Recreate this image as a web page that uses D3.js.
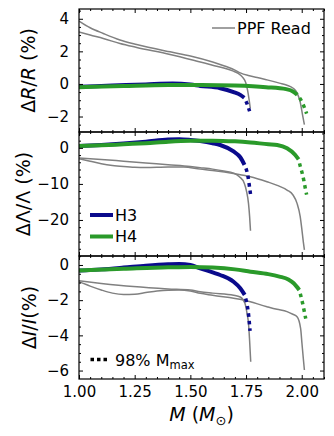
<!DOCTYPE html>
<html><head><meta charset="utf-8">
<script src="https://cdn.jsdelivr.net/npm/d3@7"></script>
<style>
html,body{margin:0;padding:0;background:#fff;}
svg{display:block;font-family:"DejaVu Sans",sans-serif;}
</style></head>
<body>
<svg id="c" width="334" height="436"></svg>
<script>
// ---------- data: [mass (M_sun), percent] ----------
const xTicks = [1.00, 1.25, 1.50, 1.75, 2.00];

// Panel 1: ΔR/R (%)
const rTicks = [-2, 0, 2, 4];
const r_H3 = [[1.0,-0.17],[1.15,-0.1],[1.3,-0.03],[1.42,0.02],[1.5,-0.04],[1.544,-0.12],[1.634,-0.26],[1.694,-0.5],[1.724,-0.67],[1.742,-0.85]];
const r_H3_dot = [[1.742,-0.85],[1.754,-1.2],[1.766,-1.68]];
const r_H4 = [[1.0,-0.2],[1.2,-0.13],[1.4,-0.07],[1.55,-0.06],[1.7,-0.1],[1.84,-0.2],[1.93,-0.32],[1.965,-0.5],[1.98,-0.67]];
const r_H4_dot = [[1.98,-0.67],[1.995,-0.95],[2.01,-1.38],[2.022,-1.82]];
const r_PPF_H3 = [[1.0,3.19],[1.05,3.0],[1.109,2.79],[1.184,2.48],[1.259,2.24],[1.409,1.81],[1.535,1.38],[1.6,1.15],[1.65,0.98],[1.69,0.8],[1.715,0.65],[1.735,0.4],[1.748,0.1],[1.757,-0.4],[1.763,-0.9],[1.769,-1.5]];
const r_PPF_H4 = [[1.0,3.86],[1.05,3.45],[1.109,3.1],[1.184,2.7],[1.259,2.42],[1.409,1.97],[1.5,1.72],[1.6,1.35],[1.65,1.12],[1.7,0.85],[1.724,0.68],[1.76,0.52],[1.8,0.4],[1.844,0.25],[1.9,0.05],[1.934,-0.08],[1.96,-0.25],[1.979,-0.55],[1.993,-1.1],[2.003,-1.85],[2.012,-2.5]];

// Panel 2: ΔΛ/Λ (%)
const lTicks = [-20, -10, 0];
const l_H3 = [[1.0,0.5],[1.1,0.8],[1.2,1.2],[1.3,1.7],[1.4,2.3],[1.45,2.4],[1.5,2.2],[1.544,1.9],[1.6,1.3],[1.634,0.8],[1.694,-1.0],[1.724,-2.6],[1.743,-4.7]];
const l_H3_dot = [[1.743,-4.7],[1.754,-6.6],[1.76,-8.4],[1.765,-10.6],[1.77,-12.8]];
const l_H4 = [[1.0,0.5],[1.1,0.7],[1.2,1.0],[1.3,1.3],[1.4,1.7],[1.5,1.95],[1.6,2.0],[1.7,1.8],[1.77,1.5],[1.85,1.0],[1.89,0.8],[1.934,-0.1],[1.97,-1.9],[1.986,-3.2]];
const l_H4_dot = [[1.986,-3.2],[1.993,-5.0],[2.002,-7.0],[2.01,-9.2],[2.016,-11.2],[2.022,-13.0]];
const l_PPF_H3 = [[1.0,-2.8],[1.1,-3.2],[1.2,-3.7],[1.3,-4.2],[1.4,-4.7],[1.5,-5.2],[1.544,-5.5],[1.6,-5.9],[1.65,-6.4],[1.694,-7.0],[1.72,-8.0],[1.742,-9.8],[1.752,-12],[1.761,-15.4],[1.766,-19],[1.77,-23]];
const l_PPF_H4 = [[1.0,-3.0],[1.05,-3.7],[1.1,-4.4],[1.15,-4.9],[1.2,-5.2],[1.25,-5.4],[1.3,-5.45],[1.4,-5.3],[1.47,-5.3],[1.544,-5.9],[1.6,-6.3],[1.7,-7.2],[1.769,-8.0],[1.844,-9.4],[1.89,-10.4],[1.934,-11.7],[1.96,-13],[1.979,-15.4],[1.993,-19],[2.001,-22.8],[2.007,-26],[2.012,-28.3]];

// Panel 3: ΔI/I (%)
const iTicks = [-6, -4, -2, 0];
const i_H3 = [[1.0,-0.32],[1.1,-0.25],[1.2,-0.15],[1.3,-0.04],[1.4,0.04],[1.45,0.06],[1.5,0.0],[1.544,-0.19],[1.6,-0.42],[1.634,-0.57],[1.694,-0.95],[1.724,-1.32],[1.744,-1.7]];
const i_H3_dot = [[1.744,-1.7],[1.752,-2.1],[1.758,-2.5],[1.762,-2.9],[1.765,-3.3],[1.768,-3.75]];
const i_H4 = [[1.0,-0.32],[1.2,-0.22],[1.4,-0.13],[1.5,-0.12],[1.6,-0.15],[1.7,-0.25],[1.77,-0.38],[1.85,-0.52],[1.9,-0.66],[1.94,-0.82],[1.964,-1.04],[1.989,-1.42]];
const i_H4_dot = [[1.989,-1.42],[1.996,-1.76],[2.004,-2.18],[2.011,-2.61],[2.018,-3.05]];
const i_PPF_H3 = [[1.0,-0.9],[1.1,-1.05],[1.244,-1.23],[1.4,-1.36],[1.5,-1.42],[1.544,-1.52],[1.6,-1.6],[1.694,-1.72],[1.724,-1.82],[1.745,-2.18],[1.755,-2.8],[1.761,-3.31],[1.766,-4.3],[1.771,-5.5]];
const i_PPF_H4 = [[1.0,-0.95],[1.05,-1.2],[1.1,-1.42],[1.15,-1.6],[1.2,-1.68],[1.25,-1.66],[1.3,-1.57],[1.35,-1.48],[1.4,-1.43],[1.45,-1.42],[1.5,-1.48],[1.544,-1.61],[1.6,-1.72],[1.739,-1.99],[1.844,-2.37],[1.889,-2.52],[1.934,-2.65],[1.96,-2.8],[1.979,-2.94],[1.995,-3.6],[2.001,-4.45],[2.007,-5.3],[2.012,-5.97]];

// ---------- layout ----------
const L = 79, R = 324;
const BLUE = "#0a0a8c", GREEN = "#2a9a2a", GREY = "#808080";
const svg = d3.select("#c");
const x = d3.scaleLinear().domain([1.0, 2.1]).range([L, R]);
const xMinor = d3.range(1.0, 2.1001, 0.05);

const panels = [
  {top: 9, bot: 132, dom: [-2.95, 4.6], ticks: rTicks, minorStep: 0.5,
   series: [r_PPF_H3, r_PPF_H4], h3: r_H3, h3d: r_H3_dot, h4: r_H4, h4d: r_H4_dot,
   label: "R", labelX: 28},
  {top: 132, bot: 256, dom: [-30, 4.4], ticks: lTicks, minorStep: 2,
   series: [l_PPF_H3, l_PPF_H4], h3: l_H3, h3d: l_H3_dot, h4: l_H4, h4d: l_H4_dot,
   label: "L", labelX: 23},
  {top: 256, bot: 379, dom: [-6.48, 0.51], ticks: iTicks, minorStep: 0.5,
   series: [i_PPF_H3, i_PPF_H4], h3: i_H3, h3d: i_H3_dot, h4: i_H4, h4d: i_H4_dot,
   label: "I", labelX: 29}
];

panels.forEach((p, k) => {
  const y = d3.scaleLinear().domain(p.dom).range([p.bot, p.top]);
  const g = svg.append("g");
  const cid = "clip" + k;
  svg.append("clipPath").attr("id", cid).append("rect")
    .attr("x", L).attr("y", p.top).attr("width", R - L).attr("height", p.bot - p.top);
  const line = d3.line().x(d => x(d[0])).y(d => y(d[1])).curve(d3.curveMonotoneX);
  const plot = g.append("g").attr("clip-path", `url(#${cid})`);
  p.series.forEach(s => plot.append("path").attr("d", line(s)).attr("fill", "none")
    .attr("stroke", GREY).attr("stroke-width", 1.5));
  [[p.h3, BLUE], [p.h4, GREEN]].forEach(([s, c]) => plot.append("path").attr("d", line(s))
    .attr("fill", "none").attr("stroke", c).attr("stroke-width", 4).attr("stroke-linecap", "butt"));
  [[p.h3d, BLUE], [p.h4d, GREEN]].forEach(([s, c]) => plot.append("path").attr("d", line(s))
    .attr("fill", "none").attr("stroke", c).attr("stroke-width", 3.5)
    .attr("stroke-dasharray", "3.5,4").attr("stroke-dashoffset", -4));

  // minor ticks
  const lo = Math.ceil(p.dom[0] / p.minorStep) * p.minorStep;
  const yMinor = d3.range(lo, p.dom[1] + 1e-9, p.minorStep).filter(v => !p.ticks.includes(Math.round(v*100)/100));
  const xMin = xMinor.filter(v => !xTicks.some(t => Math.abs(t - v) < 1e-6));
  const mk = (axis, tr) => {
    const a = g.append("g").attr("transform", tr).call(axis);
    a.select(".domain").remove();
    a.selectAll("line").attr("stroke", "#000").attr("stroke-width", 1);
    return a;
  };
  mk(d3.axisLeft(y).tickValues(yMinor).tickSize(-2).tickFormat(""), `translate(${L},0)`);
  mk(d3.axisRight(y).tickValues(yMinor).tickSize(-2).tickFormat(""), `translate(${R},0)`);
  mk(d3.axisBottom(x).tickValues(xMin).tickSize(-2).tickFormat(""), `translate(0,${p.bot})`);
  mk(d3.axisTop(x).tickValues(xMin).tickSize(-2).tickFormat(""), `translate(0,${p.top})`);
  const la = mk(d3.axisLeft(y).tickValues(p.ticks).tickSize(-4).tickPadding(10).tickFormat(d3.format("d")), `translate(${L},0)`);
  la.selectAll("text").attr("font-size", 15).attr("font-family", "DejaVu Sans").attr("fill", "#000");
  mk(d3.axisRight(y).tickValues(p.ticks).tickSize(-4).tickFormat(""), `translate(${R},0)`);
  const ba = mk(d3.axisBottom(x).tickValues(xTicks).tickSize(-4).tickPadding(7)
    .tickFormat(k === 2 ? d3.format(".2f") : () => ""), `translate(0,${p.bot})`);
  ba.selectAll("text").attr("font-size", 15).attr("font-family", "DejaVu Sans").attr("fill", "#000");
  mk(d3.axisTop(x).tickValues(xTicks).tickSize(-4).tickFormat(""), `translate(0,${p.top})`);

  g.append("rect").attr("x", L).attr("y", p.top).attr("width", R - L).attr("height", p.bot - p.top)
    .attr("fill", "none").attr("stroke", "#000").attr("stroke-width", 1.2);

  // y label
  const cy = (p.top + p.bot) / 2;
  const t = svg.append("text").attr("transform", `translate(${p.labelX},${cy}) rotate(-90)`)
    .attr("text-anchor", "middle").attr("dominant-baseline", "central")
    .attr("font-size", 19).attr("font-family", "DejaVu Sans");
  if (p.label === "R") {
    t.append("tspan").text("Δ");
    t.append("tspan").attr("font-style", "italic").text("R");
    t.append("tspan").text("/");
    t.append("tspan").attr("font-style", "italic").text("R");
    t.append("tspan").text(" (%)");
  } else if (p.label === "L") {
    t.append("tspan").text("ΔΛ/Λ (%)");
  } else {
    t.append("tspan").text("Δ");
    t.append("tspan").attr("font-style", "italic").text("I");
    t.append("tspan").text("/");
    t.append("tspan").attr("font-style", "italic").text("I");
    t.append("tspan").text("(%)");
  }
});

// x label
const xl = svg.append("text").attr("x", (L + R) / 2).attr("y", 421).attr("text-anchor", "middle")
  .attr("font-size", 19).attr("font-family", "DejaVu Sans");
xl.append("tspan").attr("font-style", "italic").text("M");
xl.append("tspan").text(" (");
xl.append("tspan").attr("font-style", "italic").text("M");
xl.append("tspan").attr("font-size", 13).attr("dy", 4).text("⊙");
xl.append("tspan").attr("dy", -4).text(")");

// legends
const leg = (x1, x2, yy, color, w, dash) => {
  const l = svg.append("line").attr("x1", x1).attr("x2", x2).attr("y1", yy).attr("y2", yy)
    .attr("stroke", color).attr("stroke-width", w);
  if (dash) l.attr("stroke-dasharray", dash);
};
leg(212, 235, 28, GREY, 1.5);
svg.append("text").attr("x", 237).attr("y", 28).attr("dominant-baseline", "central")
  .attr("font-size", 16).text("PPF Read");
leg(90, 113, 215, BLUE, 4);
svg.append("text").attr("x", 115).attr("y", 215).attr("dominant-baseline", "central")
  .attr("font-size", 16).text("H3");
leg(90, 113, 236.5, GREEN, 4);
svg.append("text").attr("x", 115).attr("y", 236.5).attr("dominant-baseline", "central")
  .attr("font-size", 16).text("H4");
leg(90.5, 107, 359.5, "#000", 3.5, "3.5,3");
const t98 = svg.append("text").attr("x", 115).attr("y", 365.5).attr("font-size", 16);
t98.append("tspan").text("98% M");
t98.append("tspan").attr("font-size", 11.5).attr("dy", 3).text("max");
</script>
</body></html>
